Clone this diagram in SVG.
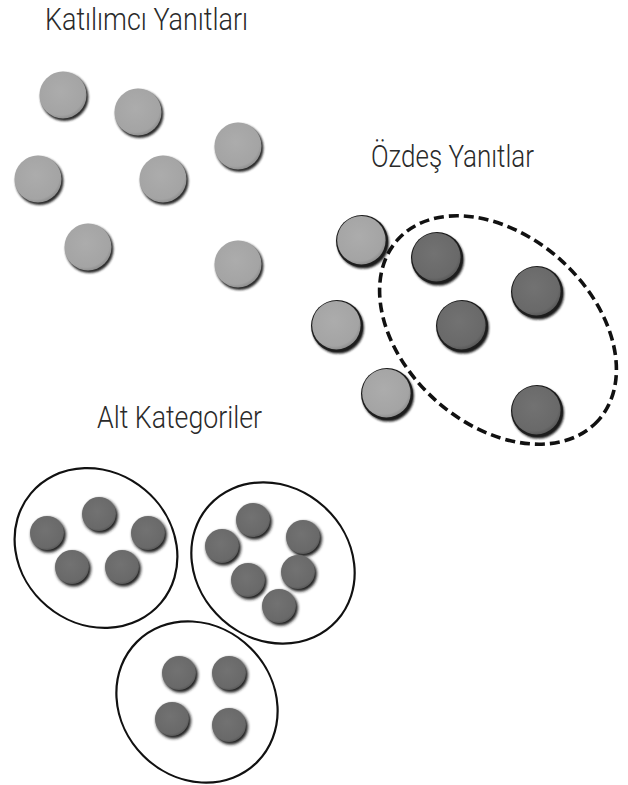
<svg xmlns="http://www.w3.org/2000/svg" xmlns:xlink="http://www.w3.org/1999/xlink" width="628" height="785" viewBox="0 0 628 785">
<style>
.lbl{font-family:Roboto,"Liberation Sans",Arial,sans-serif;font-weight:300;font-size:32px;fill:#2a2a2a;}
.grp{fill:none;stroke:#111;stroke-width:2.2;}
.dash{fill:none;stroke:#111;stroke-width:3.6;stroke-dasharray:10 5;}
</style>
<defs>
<filter id="blur" x="-50%" y="-50%" width="200%" height="200%"><feGaussianBlur stdDeviation="1.3"/></filter>
<filter id="blur2" x="-50%" y="-50%" width="200%" height="200%"><feGaussianBlur stdDeviation="1.6"/></filter>
<radialGradient id="gLight" cx="0.45" cy="0.42" r="0.6">
<stop offset="0" stop-color="#acacac"/><stop offset="0.85" stop-color="#a4a4a4"/><stop offset="1" stop-color="#8a8a8a"/>
</radialGradient>
<radialGradient id="gDark" cx="0.45" cy="0.42" r="0.6">
<stop offset="0" stop-color="#727272"/><stop offset="0.85" stop-color="#696969"/><stop offset="1" stop-color="#555"/>
</radialGradient>
<g id="dotA">
<circle cx="1.5" cy="2" r="24" fill="#2a2a2a" filter="url(#blur)"/>
<circle cx="0" cy="0" r="23.5" fill="url(#gLight)"/>
</g>
<g id="dotL">
<circle cx="0" cy="0" r="26" fill="#1e1e1e"/>
<circle cx="1.2" cy="1.8" r="25.8" fill="#1e1e1e" filter="url(#blur)"/>
<circle cx="-0.6" cy="-0.8" r="24.2" fill="url(#gLight)"/>
</g>
<g id="dotD">
<circle cx="0" cy="0" r="26" fill="#1e1e1e"/>
<circle cx="1.2" cy="1.8" r="25.8" fill="#1e1e1e" filter="url(#blur)"/>
<circle cx="-0.6" cy="-0.8" r="24.2" fill="url(#gDark)"/>
</g>
<g id="dotS">
<circle cx="1.5" cy="2" r="17.5" fill="#1e1e1e" filter="url(#blur2)"/>
<circle cx="0" cy="0" r="17" fill="url(#gDark)"/>
</g>
</defs>
<rect width="628" height="785" fill="#fff"/>

<g id="label-katilimci"><text class="lbl" x="45" y="30" textLength="203" lengthAdjust="spacingAndGlyphs">Katılımcı Yanıtları</text></g>
<g id="label-ozdes"><text class="lbl" x="371" y="167" textLength="163" lengthAdjust="spacingAndGlyphs">Özdeş Yanıtlar</text></g>
<g id="label-alt"><text class="lbl" x="97" y="428" textLength="165" lengthAdjust="spacingAndGlyphs">Alt Kategoriler</text></g>

<g id="responses">
<use xlink:href="#dotA" href="#dotA" transform="translate(63,95)"/>
<use xlink:href="#dotA" href="#dotA" transform="translate(138,112)"/>
<use xlink:href="#dotA" href="#dotA" transform="translate(238,146)"/>
<use xlink:href="#dotA" href="#dotA" transform="translate(38,179)"/>
<use xlink:href="#dotA" href="#dotA" transform="translate(163,179)"/>
<use xlink:href="#dotA" href="#dotA" transform="translate(88,247)"/>
<use xlink:href="#dotA" href="#dotA" transform="translate(238,264)"/>
</g>

<g id="identical">
<use xlink:href="#dotL" href="#dotL" transform="translate(362,241)"/>
<use xlink:href="#dotL" href="#dotL" transform="translate(337,326)"/>
<use xlink:href="#dotL" href="#dotL" transform="translate(387,394)"/>
<use xlink:href="#dotD" href="#dotD" transform="translate(437,258)"/>
<use xlink:href="#dotD" href="#dotD" transform="translate(537,292)"/>
<use xlink:href="#dotD" href="#dotD" transform="translate(462,326)"/>
<use xlink:href="#dotD" href="#dotD" transform="translate(537,411)"/>
<ellipse class="dash" cx="0" cy="0" rx="135" ry="94" transform="translate(498,330) rotate(42)"/>
</g>

<g id="subcat-1">
<ellipse class="grp" cx="0" cy="0" rx="85" ry="76" transform="translate(96,548) rotate(40)"/>
<use xlink:href="#dotS" href="#dotS" transform="translate(47,533)"/>
<use xlink:href="#dotS" href="#dotS" transform="translate(99,514)"/>
<use xlink:href="#dotS" href="#dotS" transform="translate(148,533)"/>
<use xlink:href="#dotS" href="#dotS" transform="translate(72,567)"/>
<use xlink:href="#dotS" href="#dotS" transform="translate(122,567)"/>
</g>

<g id="subcat-2">
<ellipse class="grp" cx="0" cy="0" rx="86" ry="76" transform="translate(273,563) rotate(42)"/>
<use xlink:href="#dotS" href="#dotS" transform="translate(253,520)"/>
<use xlink:href="#dotS" href="#dotS" transform="translate(222,546)"/>
<use xlink:href="#dotS" href="#dotS" transform="translate(303,537)"/>
<use xlink:href="#dotS" href="#dotS" transform="translate(248,580)"/>
<use xlink:href="#dotS" href="#dotS" transform="translate(298,572)"/>
<use xlink:href="#dotS" href="#dotS" transform="translate(279,606)"/>
</g>

<g id="subcat-3">
<ellipse class="grp" cx="0" cy="0" rx="85" ry="76" transform="translate(197,702) rotate(45)"/>
<use xlink:href="#dotS" href="#dotS" transform="translate(179,673)"/>
<use xlink:href="#dotS" href="#dotS" transform="translate(229,673)"/>
<use xlink:href="#dotS" href="#dotS" transform="translate(172,719)"/>
<use xlink:href="#dotS" href="#dotS" transform="translate(229,725)"/>
</g>
</svg>
